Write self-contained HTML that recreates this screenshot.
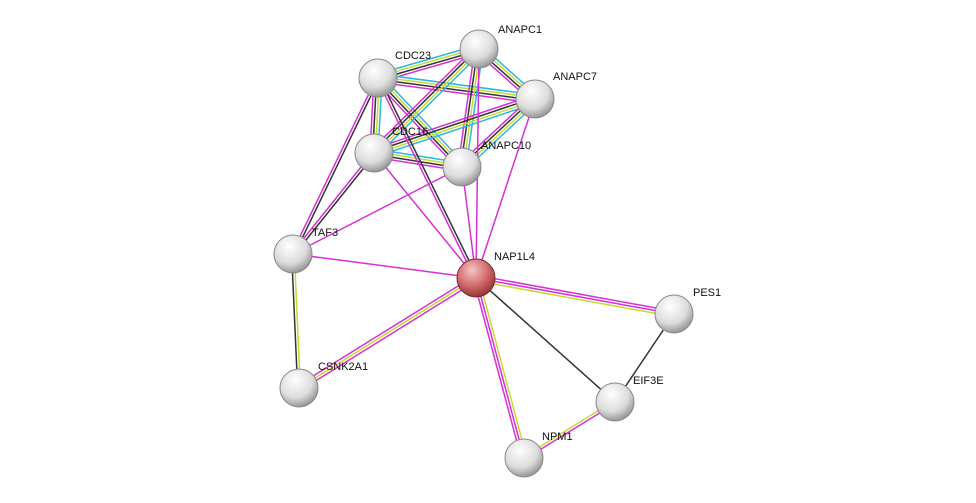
<!DOCTYPE html>
<html><head><meta charset="utf-8"><style>
html,body{margin:0;padding:0;background:#fff;width:976px;height:503px;overflow:hidden}
svg text{font-family:"Liberation Sans",Arial,sans-serif;font-size:11px;fill:#111}
</style></head><body>
<svg id="s" width="976" height="503" xmlns="http://www.w3.org/2000/svg">
<defs>
<radialGradient id="g" cx="0.4" cy="0.3" r="0.75">
<stop offset="0" stop-color="#ffffff"/><stop offset="0.6" stop-color="#dcdcdc"/><stop offset="1" stop-color="#8a8a8a"/>
</radialGradient>
<radialGradient id="r" cx="0.4" cy="0.3" r="0.75">
<stop offset="0" stop-color="#f4c4c4"/><stop offset="0.55" stop-color="#d46a6a"/><stop offset="1" stop-color="#8a2e2e"/>
</radialGradient>
</defs>
<g id="E"></g><g id="N"></g>
</svg>
<script>
var P={ANAPC1:[479,49],CDC23:[378,78],ANAPC7:[535,99],CDC16:[374,153],ANAPC10:[462,167],TAF3:[293,254],NAP1L4:[476,278],PES1:[674,314],CSNK2A1:[299,388],EIF3E:[615,402],NPM1:[524,458]};
var C={c:"#2bb8e0",m:"#d92ed9",y:"#c4dc30",k:"#333"};
var full="cykm";
var E=[["CDC23","ANAPC1",full],["CDC23","ANAPC7",full],["CDC23","CDC16",full],["CDC23","ANAPC10",full],
["ANAPC1","ANAPC7",full],["ANAPC1","CDC16",full],["ANAPC1","ANAPC10",full],["ANAPC7","CDC16",full],["ANAPC7","ANAPC10",full],["CDC16","ANAPC10",full],
["CDC23","NAP1L4","km"],["CDC16","NAP1L4","m"],["ANAPC10","NAP1L4","m"],["ANAPC1","NAP1L4","m"],["ANAPC7","NAP1L4","m"],
["CDC23","TAF3","km"],["CDC16","TAF3","km"],["ANAPC10","TAF3","m"],["TAF3","NAP1L4","m"],["TAF3","CSNK2A1","yk"],
["NAP1L4","CSNK2A1","mym"],["NAP1L4","PES1","mmy"],["NAP1L4","EIF3E","k"],["NAP1L4","NPM1","ymm"],["PES1","EIF3E","k"],["EIF3E","NPM1","my"]];
var ns="http://www.w3.org/2000/svg",eg=document.getElementById("E"),ng=document.getElementById("N");
E.forEach(function(e){var a=P[e[0]],b=P[e[1]],dx=b[0]-a[0],dy=b[1]-a[1],L=Math.hypot(dx,dy),px=-dy/L,py=dx/L,n=e[2].length;
for(var i=0;i<n;i++){var o=(i-(n-1)/2)*2.7;var l=document.createElementNS(ns,"line");
l.setAttribute("x1",a[0]+px*o);l.setAttribute("y1",a[1]+py*o);l.setAttribute("x2",b[0]+px*o);l.setAttribute("y2",b[1]+py*o);
l.setAttribute("stroke",C[e[2][i]]);l.setAttribute("stroke-width","1.5");eg.appendChild(l);}});
var lab={ANAPC1:[19,-20],CDC23:[17,-23],ANAPC7:[18,-23],CDC16:[18,-22],ANAPC10:[19,-22],TAF3:[19,-22],NAP1L4:[18,-22],PES1:[19,-22],CSNK2A1:[19,-22],EIF3E:[18,-22],NPM1:[18,-22]};
for(var k in P){var p=P[k];var c=document.createElementNS(ns,"circle");c.setAttribute("cx",p[0]);c.setAttribute("cy",p[1]);c.setAttribute("r",19);
c.setAttribute("fill",k=="NAP1L4"?"url(#r)":"url(#g)");c.setAttribute("stroke",k=="NAP1L4"?"#7a2a2a":"#888");c.setAttribute("stroke-width","1");ng.appendChild(c);
var t=document.createElementNS(ns,"text");t.setAttribute("x",p[0]+lab[k][0]);t.setAttribute("y",p[1]+lab[k][1]+4);t.textContent=k;ng.appendChild(t);}
</script>
</body></html>
